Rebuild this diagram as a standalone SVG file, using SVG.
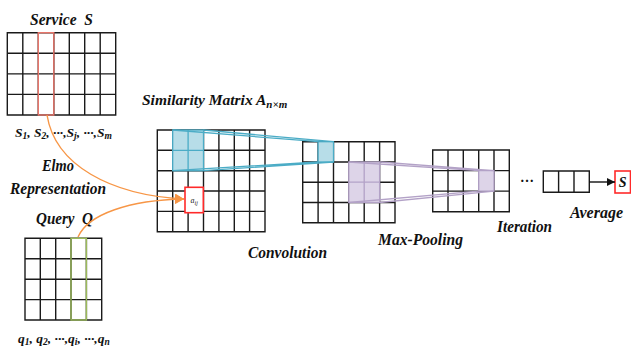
<svg xmlns="http://www.w3.org/2000/svg" width="631" height="351" viewBox="0 0 631 351">
<style>
.g{fill:none;stroke:#1a1a1a;stroke-width:1.4}
.lbl{font-family:"Liberation Serif","Times New Roman",serif;font-weight:bold;font-style:italic;font-size:17px;fill:#111}
.sm{font-size:13.5px}
.sub{font-size:9.5px}
.blue{fill:#b7dde8;stroke:#4bacc6;stroke-width:1.3}
.bl{stroke:#4bacc6;stroke-width:1.3;fill:none}
.pur{fill:#ddd4e8;stroke:#b3a2c7;stroke-width:1.3}
.pl{stroke:#b3a2c7;stroke-width:1.3;fill:none}
.or{fill:none;stroke:#f79646;stroke-width:1.4}
</style>
<defs>
<marker id="ao" markerUnits="userSpaceOnUse" markerWidth="10" markerHeight="10" refX="9" refY="5" orient="auto"><path d="M0,0 L9,5 L0,10 z" fill="#f79646"/></marker>
<marker id="ab" markerUnits="userSpaceOnUse" markerWidth="9" markerHeight="9" refX="8" refY="4" orient="auto"><path d="M0,0 L8,4 L0,8 z" fill="#111"/></marker>
</defs>

<g id="service">
<text class="lbl" x="30" y="25" textLength="63" lengthAdjust="spacingAndGlyphs" xml:space="preserve">Service  S</text>
<path class="g" d="M7.3,32.7H115.7V115H7.3Z M22.8,32.7V115 M38.3,32.7V115 M53.8,32.7V115 M69.3,32.7V115 M84.7,32.7V115 M100.2,32.7V115 M7.3,53.3H115.7 M7.3,73.9H115.7 M7.3,94.4H115.7"/>
<rect x="38.3" y="32.7" width="15.5" height="82.3" fill="none" stroke="#e8756a" stroke-width="1.4"/>
<text class="lbl sm" x="15" y="136.5">S<tspan class="sub" dy="2.5">1</tspan><tspan dy="-2.5">, S</tspan><tspan class="sub" dy="2.5">2</tspan><tspan dy="-2.5">, ···,S</tspan><tspan class="sub" dy="2.5">j</tspan><tspan dy="-2.5">, ···,S</tspan><tspan class="sub" dy="2.5">m</tspan></text>
</g>

<g id="elmo">
<text class="lbl" x="42" y="171" textLength="32" lengthAdjust="spacingAndGlyphs">Elmo</text>
<text class="lbl" x="10" y="193.5" textLength="96" lengthAdjust="spacingAndGlyphs">Representation</text>
</g>

<g id="query">
<text class="lbl" x="36" y="224" textLength="57" lengthAdjust="spacingAndGlyphs" xml:space="preserve">Query  Q</text>
<path class="g" d="M25,238.3H101.7V320H25Z M40.3,238.3V320 M55.7,238.3V320 M71,238.3V320 M86.4,238.3V320 M25,258.7H101.7 M25,279.2H101.7 M25,299.6H101.7"/>
<rect x="71" y="238.3" width="15.4" height="81.7" fill="none" stroke="#9bbb59" stroke-width="1.4"/>
<text class="lbl sm" x="18" y="342.5">q<tspan class="sub" dy="2">1</tspan><tspan dy="-2">, q</tspan><tspan class="sub" dy="2">2</tspan><tspan dy="-2">, ···,q</tspan><tspan class="sub" dy="2">i</tspan><tspan dy="-2">, ···,q</tspan><tspan class="sub" dy="2">n</tspan></text>
</g>

<g id="similarity">
<text class="lbl" x="142" y="105" style="font-size:15.5px">Similarity Matrix A<tspan style="font-size:11px" dy="3">n×m</tspan></text>
<path class="g" d="M157.3,130H265V231.7H157.3Z M172.7,130V231.7 M188.1,130V231.7 M203.5,130V231.7 M218.9,130V231.7 M234.3,130V231.7 M249.6,130V231.7 M157.3,150.3H265 M157.3,170.7H265 M157.3,191H265 M157.3,211.4H265"/>
<rect class="blue" x="172.7" y="130" width="30.8" height="40.7"/>
<path class="bl" d="M188.1,130V170.7 M172.7,150.3H203.5"/>
<rect x="185" y="187.3" width="18.3" height="25.4" fill="#fff" stroke="#ff2a2a" stroke-width="1.6"/>
<text x="194.2" y="203" text-anchor="middle" font-family="Liberation Serif, serif" font-style="italic" font-size="8px" fill="#222">a<tspan font-size="6px" dy="1.5">ij</tspan></text>
</g>

<g id="convolution">
<path class="g" d="M302.7,141.7H395V222.7H302.7Z M318.1,141.7V222.7 M333.5,141.7V222.7 M348.8,141.7V222.7 M364.2,141.7V222.7 M379.6,141.7V222.7 M302.7,162H395 M302.7,182.2H395 M302.7,202.5H395"/>
<rect class="blue" x="318.1" y="141.7" width="15.4" height="20.3"/>
<rect class="pur" x="348.8" y="162" width="30.8" height="40.5"/>
<path class="pl" d="M364.2,162V202.5 M348.8,182.2H379.6"/>
<text class="lbl" x="248" y="258" textLength="79" lengthAdjust="spacingAndGlyphs">Convolution</text>
</g>

<g id="pooling">
<path class="g" d="M432.7,150H509.3V211.7H432.7Z M448,150V211.7 M463.3,150V211.7 M478.7,150V211.7 M494,150V211.7 M432.7,170.6H509.3 M432.7,191.1H509.3"/>
<rect class="pur" x="478.7" y="170.6" width="15.3" height="20.5"/>
<text class="lbl" x="378" y="245" textLength="85" lengthAdjust="spacingAndGlyphs">Max-Pooling</text>
</g>

<g id="iteration">
<text x="520" y="182" font-family="Liberation Serif, serif" font-weight="bold" font-size="14px" fill="#111">…</text>
<text class="lbl" x="497" y="231.5" textLength="55" lengthAdjust="spacingAndGlyphs">Iteration</text>
</g>

<g id="average">
<path class="g" d="M543.3,171H589.3V192.3H543.3Z M558.6,171V192.3 M574,171V192.3"/>
<text class="lbl" x="570" y="218" textLength="53" lengthAdjust="spacingAndGlyphs">Average</text>
</g>

<g id="score">
<rect x="615" y="171" width="15.5" height="22" fill="#fff" stroke="#ff2a2a" stroke-width="1.6"/>
<text x="622.7" y="187" text-anchor="middle" font-family="Liberation Serif, serif" font-weight="bold" font-style="italic" font-size="14px" fill="#111">S</text>
</g>

<g id="connectors">
<path class="bl" d="M172.7,130L318.1,141.7 M203.5,130L333.5,141.7 M172.7,170.7L318.1,162 M203.5,170.7L333.5,162"/>
<path class="pl" d="M348.8,162L478.7,170.6 M379.6,162L494,170.6 M348.8,202.5L478.7,191.1 M379.6,202.5L494,191.1"/>
<path class="or" d="M47,115 C55,165 110,195 184,199" marker-end="url(#ao)"/>
<path class="or" d="M78,237 C88,214 130,200 184,199" marker-end="url(#ao)"/>
<line x1="589.3" y1="182" x2="615" y2="182" stroke="#111" stroke-width="1.4" marker-end="url(#ab)"/>
</g>
</svg>
